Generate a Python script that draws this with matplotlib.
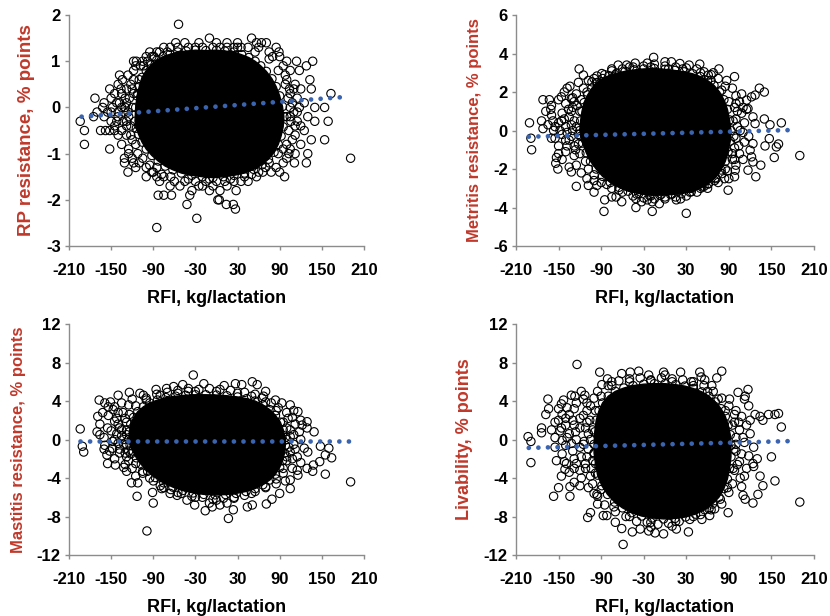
import matplotlib
matplotlib.use("Agg")
from matplotlib import pyplot as plt

plt.rcParams['font.family'] = ['Liberation Sans', 'DejaVu Sans']
plt.rcParams['axes.unicode_minus'] = False

LABEL_RED = "#C0392B"
TREND_BLUE = "#3A64B0"
AXIS_GREY = "#8C8C8C"

x_ticks = [-210, -150, -90, -30, 30, 90, 150, 210]
x_label = "RFI, kg/lactation"

# ---- RP resistance ----
rp_yticks = [-3, -2, -1, 0, 1, 2]
rp_core = [
    (-116, -0.3), (-115, 0.0), (-113, 0.25), (-110, 0.45), (-106, 0.65), (-100, 0.8), (-93, 0.92),
    (-85, 1.02), (-76, 1.1), (-66, 1.15), (-55, 1.2), (-43, 1.22), (-30, 1.24), (-15, 1.23), (0, 1.24),
    (12, 1.22), (25, 1.2), (36, 1.14), (46, 1.08), (55, 1.0), (63, 0.9), (71, 0.78), (79, 0.62),
    (85, 0.45), (90, 0.25), (94, 0.02), (96, -0.2), (95, -0.42), (92, -0.62), (88, -0.8), (82, -0.97),
    (74, -1.12), (65, -1.24), (53, -1.34), (40, -1.42), (25, -1.47), (10, -1.5), (-5, -1.52),
    (-20, -1.5), (-35, -1.47), (-50, -1.42), (-62, -1.35), (-73, -1.27), (-83, -1.16), (-92, -1.04),
    (-100, -0.9), (-106, -0.75), (-111, -0.58), (-114, -0.45),
]
rp_points = [
    (-54, 1.8), (-10, 1.5), (50, 1.5), (-58, 1.4), (-45, 1.4), (-25, 1.4), (0, 1.4), (15, 1.4), (30, 1.4),
    (57, 1.4), (64, 1.4), (71, 1.4), (-66, 1.3), (-55, 1.3), (-40, 1.3), (-30, 1.3), (-20, 1.3), (-5, 1.3),
    (5, 1.3), (15, 1.3), (25, 1.3), (35, 1.3), (45, 1.3), (60, 1.3), (-81, 1.2), (-70, 1.2), (75, 1.2),
    (89, 1.2), (-89, 1.1), (-92, 1.1), (80, 1.1), (90, 1.1), (-118, 1.0), (-114, 1.0), (-105, 1.0),
    (-98, 1.0), (100, 1.0), (114, 1.0), (137, 1.0), (-104, 0.9), (95, 0.9), (128, 0.9), (-126, 0.7),
    (-138, 0.7), (-118, 0.8), (105, 0.8), (118, 0.8), (-134, 0.6), (100, 0.6), (133, 0.6), (-140, 0.5),
    (-122, 0.5), (-152, 0.4), (110, 0.4), (120, 0.4), (135, 0.4), (-135, 0.3), (105, 0.3), (163, 0.3),
    (-173, 0.2), (-150, 0.2), (-130, 0.2), (115, 0.2), (-142, 0.1), (-160, 0.1), (125, 0.1), (-162, 0.0),
    (-148, 0.0), (-130, 0.0), (105, 0.0), (118, 0.0), (140, 0.0), (154, 0.0), (-170, -0.1), (-155, -0.1),
    (110, -0.1), (-175, -0.2), (-160, -0.2), (-140, -0.2), (130, -0.2), (-194, -0.3), (-150, -0.3),
    (-128, -0.3), (115, -0.3), (140, -0.3), (159, -0.3), (-145, -0.4), (120, -0.4), (-188, -0.5),
    (-165, -0.5), (-158, -0.5), (-152, -0.5), (-145, -0.5), (-135, -0.5), (125, -0.5), (-140, -0.6),
    (-128, -0.6), (112, -0.6), (-120, -0.7), (135, -0.7), (154, -0.7), (-188, -0.8), (-135, -0.8),
    (120, -0.8), (-152, -0.9), (-125, -0.9), (105, -0.9), (-125, -1.0), (-112, -1.0), (112, -1.0),
    (130, -1.0), (-131, -1.1), (-120, -1.1), (100, -1.1), (191, -1.1), (-131, -1.2), (-118, -1.2),
    (-110, -1.2), (95, -1.2), (111, -1.2), (128, -1.2), (-85, -1.3), (-100, -1.3), (85, -1.3), (70, -1.3),
    (-126, -1.4), (-90, -1.4), (60, -1.4), (66, -1.4), (78, -1.4), (90, -1.4), (-100, -1.5), (-85, -1.5),
    (-75, -1.5), (40, -1.5), (57, -1.5), (97, -1.5), (-81, -1.6), (-60, -1.6), (-45, -1.6), (-30, -1.6),
    (-15, -1.6), (0, -1.6), (12, -1.6), (25, -1.6), (35, -1.6), (45, -1.6), (-66, -1.7), (-52, -1.7),
    (-25, -1.7), (-20, -1.7), (-5, -1.7), (15, -1.7), (-35, -1.8), (-10, -1.8), (5, -1.8), (28, -1.8),
    (-83, -1.9), (-75, -1.9), (-64, -1.9), (-38, -1.9), (2, -2.0), (4, -2.0), (-42, -2.1), (14, -2.1),
    (24, -2.1), (27, -2.2), (-28, -2.4), (-85, -2.6),
    (-115, 0.9), (-110, 0.6), (-118, 0.3), (-120, 0.0), (-122, -0.4), (-115, -0.8), (-105, -1.1),
    (-95, -1.25), (-78, -1.45), (-65, -1.5), (-40, -1.55), (-10, -1.55), (20, -1.55), (50, -1.45),
    (75, -1.2), (88, -1.0), (100, -0.8), (103, -0.5), (105, -0.2), (102, 0.2), (98, 0.5), (88, 0.8),
    (75, 1.05), (55, 1.2), (30, 1.3), (-75, 1.3), (-85, 1.2), (-100, 1.1), (-108, 0.9), (-128, 0.1),
    (-125, -0.2), (-135, 0.0), (-140, -0.1), (112, 0.5), (108, -0.7), (-95, 1.2), (85, 1.3),
    (-110, -0.4), (-115, -1.3), (-92, -1.4),
    (-145, 0.3), (-138, 0.1), (-132, -0.1), (-128, -0.4), (-122, -0.6), (-118, 0.6), (-124, 0.2),
    (-136, 0.4), (-142, -0.3), (-133, -0.3), (-126, -0.1), (-120, 0.4), (-128, 0.4), (-112, 0.3),
    (-150, -0.1), (100, -0.2), (108, 0.1), (112, -0.4), (104, 0.4), (115, -0.1), (106, -0.3), (98, 0.7),
    (95, -0.9), (103, -1.0),
]
rp_trend_x = [-192, 186]
rp_trend_y = [-0.2, 0.23]

# ---- Metritis resistance ----
met_yticks = [-6, -4, -2, 0, 2, 4, 6]
met_core = [
    (-120, 0.0), (-119, 0.5), (-117, 1.0), (-114, 1.45), (-109, 1.85), (-103, 2.2), (-96, 2.48),
    (-88, 2.7), (-79, 2.85), (-68, 2.98), (-56, 3.08), (-43, 3.15), (-30, 3.2), (-15, 3.22), (0, 3.18),
    (14, 3.12), (27, 3.05), (39, 2.95), (50, 2.8), (60, 2.6), (69, 2.35), (77, 2.0), (83, 1.6), (88, 1.1),
    (91, 0.55), (93, 0.0), (92, -0.55), (89, -1.1), (85, -1.6), (79, -2.05), (71, -2.45), (61, -2.78),
    (50, -3.0), (37, -3.18), (23, -3.28), (8, -3.33), (-7, -3.36), (-22, -3.36), (-37, -3.27),
    (-52, -3.15), (-65, -2.95), (-77, -2.7), (-88, -2.38), (-97, -2.0), (-105, -1.6), (-111, -1.15),
    (-116, -0.65), (-119, -0.3),
]
met_points = [
    (-191, 0.4), (-189, -0.4), (-188, -1.0), (-172, 1.6), (-163, 1.6), (-174, 0.5), (-172, 0.1),
    (-168, 1.0), (-161, 1.1), (-158, 0.5), (-157, 0.0), (-155, -0.4), (-154, -1.7), (-151, -2.0),
    (-153, -1.4), (-121, 3.2), (-122, 2.5), (-134, 2.3), (-138, 2.2), (-146, 1.75), (-132, 1.66),
    (-125, -2.9), (-132, -2.15), (-108, -2.85), (-100, -3.2), (-96, -2.85), (-85, -3.6), (-86, -4.2),
    (-75, -3.45), (-61, -3.7), (-69, -3.45), (-41, -4.0), (-41, -3.54), (-33, -3.7), (-18, -4.2),
    (-18, -3.7), (-25, -3.6), (0, -3.45), (-5, -3.3), (16, -3.6), (22, -3.55), (30, -4.3), (37, -3.0),
    (52, -2.93), (61, -2.75), (70, -2.6), (84, -2.5), (89, -3.1), (80, -2.24), (98, -2.4), (99, -2.06),
    (117, -2.06), (128, -2.4), (135, -1.8), (124, -1.63), (141, -0.8), (154, -1.4), (157, -0.85),
    (160, -0.7), (147, -0.42), (148, 0.3), (140, 0.6), (164, 0.4), (190, -1.3), (133, 2.2), (140, 2.0),
    (122, 1.75), (127, 1.84), (115, 1.58), (110, 1.2), (117, 1.14), (124, 0.71), (127, 0.36),
    (124, -0.68), (120, -1.02), (122, -1.37), (98, 2.8), (87, 2.6), (76, 3.2), (68, 3.0), (61, 2.88),
    (49, 3.45), (34, 3.4), (21, 3.48), (9, 3.57), (0, 3.57), (-16, 3.8), (-25, 3.5), (-42, 3.5),
    (-54, 3.4), (-66, 3.4), (-75, 3.2), (-89, 2.96), (-96, 2.83), (-103, 2.53), (-108, 2.6), (-115, 2.88),
    (-150, 1.6), (-140, 1.4), (-130, 1.2), (-145, 0.9), (-135, 0.7), (-150, 0.4), (-140, 0.2), (-130, 0.0),
    (-145, -0.2), (-135, -0.5), (-150, -0.8), (-140, -1.1), (-128, -1.3), (-145, -1.5), (-125, -1.8),
    (-135, -1.9), (-118, -2.2), (-110, -2.5), (-125, 1.9), (-115, 2.2), (-130, 1.7), (-160, 1.3),
    (-160, 0.8), (-128, 0.5), (-122, -0.7), (-120, 1.0), (-112, -1.6), (-100, 2.7), (-85, 2.9),
    (-75, 3.1), (-60, 3.2), (-45, 3.3), (-30, 3.35), (-15, 3.45), (0, 3.35), (15, 3.3), (30, 3.25),
    (45, 3.2), (55, 3.05), (65, 2.9), (75, 2.7), (85, 2.3), (95, 2.2), (100, 1.8), (105, 1.5), (98, 1.2),
    (108, 0.9), (100, 0.6), (112, 0.4), (102, 0.2), (110, -0.1), (100, -0.4), (112, -0.6), (98, -0.9),
    (105, -1.2), (95, -1.5), (100, -1.8), (88, -2.1), (115, 1.1), (118, -0.3), (90, -2.5), (75, -2.7),
    (60, -3.0), (45, -3.2), (30, -3.4), (15, -3.45), (0, -3.55), (-15, -3.55), (-30, -3.5), (-45, -3.4),
    (-60, -3.2), (-75, -3.0), (-90, -2.7), (-100, -2.3), (-8, -3.8),
    (-125, 0.2), (-120, -1.2), (-118, 1.6), (-110, 2.0), (-108, -2.0), (-100, -2.6), (-95, 2.5),
    (-82, -2.8), (-70, 2.9), (-65, -3.1), (-50, 3.3), (-40, -3.3), (-20, 3.3), (-20, -3.4), (5, 3.2),
    (10, -3.3), (25, 3.2), (35, -3.2), (50, 3.0), (55, -2.9), (65, 2.6), (72, -2.5), (80, 2.1),
    (85, -2.0), (90, 1.5), (95, -1.2), (96, 0.5), (97, -0.3), (-128, -0.8), (-132, 1.0), (-138, -0.1),
    (-155, 0.2), (-150, -1.2), (-142, 2.0), (108, 1.9), (110, -1.5), (-165, 0.3), (-160, -0.4),
    (-148, 0.0), (-142, 0.6), (-136, 1.1), (-132, -0.3), (-126, -1.0), (-138, -0.8), (-124, 1.3),
    (-128, 1.5), (-140, -0.5), (-146, 0.5), (-132, 0.3), (-122, -0.2), (102, 1.0), (104, -0.8),
    (98, -1.5), (106, 0.0), (100, 1.4),
]
met_trend_x = [-192, 184]
met_trend_y = [-0.32, 0.03]

# ---- Mastitis resistance ----
mas_yticks = [-12, -8, -4, 0, 4, 8, 12]
mas_core = [
    (-125, 0.0), (-124, 0.8), (-122, 1.6), (-118, 2.3), (-112, 2.9), (-104, 3.4), (-95, 3.8), (-84, 4.1),
    (-72, 4.35), (-58, 4.5), (-44, 4.6), (-30, 4.65), (-15, 4.65), (0, 4.62), (15, 4.55), (30, 4.42),
    (43, 4.25), (55, 4.0), (66, 3.6), (76, 3.1), (84, 2.5), (91, 1.8), (95, 1.0), (98, 0.2), (98, -0.6),
    (97, -1.4), (94, -2.2), (90, -2.9), (84, -3.6), (76, -4.2), (66, -4.7), (55, -5.1), (42, -5.4),
    (28, -5.6), (13, -5.72), (-2, -5.75), (-18, -5.7), (-33, -5.55), (-48, -5.3), (-62, -4.95),
    (-75, -4.5), (-87, -3.95), (-98, -3.3), (-107, -2.6), (-114, -1.9), (-119, -1.2), (-123, -0.6),
]
mas_points = [
    (-194, 1.1), (-191, -0.7), (-189, -1.3), (-167, 4.1), (-169, 2.4), (-166, 1.6), (-170, 0.8),
    (-166, 0.5), (-159, 3.8), (-154, 3.4), (-154, 2.5), (-159, -0.6), (-156, -1.6), (-155, -2.5),
    (-140, 4.6), (-151, 3.9), (-147, 3.1), (-124, 4.9), (-144, -2.65), (-132, -2.9), (-128, -3.3),
    (-121, -4.5), (-113, -5.9), (-90, -6.6), (-91, -5.5), (-99, -9.5), (-86, 5.2), (-104, 4.6),
    (-109, 4.8), (-71, 5.3), (-61, 5.5), (-48, 5.7), (-40, 5.3), (-33, 6.7), (-18, 5.8), (11, 5.6),
    (27, 5.8), (36, 5.7), (51, 6.0), (58, 5.7), (70, 5.0), (67, 4.5), (84, 4.1), (93, 3.8), (105, 3.6),
    (116, 2.9), (129, 1.2), (139, 0.8), (120, 2.0), (129, 1.85), (148, -0.7), (160, -0.9), (164, -1.9),
    (155, -1.6), (138, -2.65), (147, -2.3), (137, -3.3), (129, -3.0), (155, -3.6), (191, -4.4),
    (116, -3.7), (105, -4.2), (105, -5.1), (90, -5.6), (79, -6.2), (71, -6.7), (51, -6.8), (44, -7.0),
    (24, -7.3), (17, -8.2), (5, -6.8), (-16, -7.4), (-6, -7.0), (-31, -6.8), (-42, -6.3), (-56, -5.8),
    (-66, -5.6), (-78, -5.1), (-145, 3.4), (-140, 2.8), (-135, 3.8), (-130, 2.2), (-145, 1.9),
    (-138, 1.2), (-150, 0.9), (-135, 0.4), (-145, 0.0), (-132, -0.5), (-148, -0.9), (-138, -1.4),
    (-128, -1.8), (-145, -2.0), (-130, -2.6), (-120, -3.0), (-115, -3.8), (-125, 3.6), (-120, 4.2),
    (-128, 1.0), (-125, -1.2), (-160, 0.2), (-155, 1.2), (-152, -1.2), (-100, 4.3), (-85, 4.7),
    (-70, 4.9), (-55, 5.1), (-40, 5.0), (-25, 5.2), (-10, 5.3), (5, 5.2), (20, 5.1), (40, 4.9), (55, 4.7),
    (65, 4.3), (78, 3.8), (88, 3.3), (100, 2.8), (108, 2.3), (112, 1.6), (100, 1.2), (118, 0.8), (105, 0.3),
    (120, 0.0), (110, -0.5), (125, -0.9), (105, -1.3), (115, -1.8), (100, -2.2), (120, -2.4), (108, -3.0),
    (95, -3.5), (98, -4.3), (85, -4.6), (130, -1.3), (122, 1.5), (70, -5.0), (55, -5.4), (40, -5.8),
    (25, -6.0), (10, -6.1), (-5, -6.2), (-20, -6.0), (-35, -5.9), (-50, -5.6), (-65, -5.2), (-80, -4.8),
    (-95, -4.0), (-105, -3.3), (15, -6.6), (-10, -6.6),
    (-128, 0.5), (-128, -0.5), (-124, 2.6), (-115, 3.5), (-100, 4.1), (-80, 4.6), (-55, 4.8), (-30, 5.0),
    (0, 5.0), (30, 4.8), (50, 4.5), (70, 3.9), (85, 3.0), (95, 1.8), (100, 0.0), (100, -1.8), (95, -3.0),
    (85, -4.1), (70, -4.9), (50, -5.6), (25, -6.1), (0, -6.3), (-30, -6.0), (-55, -5.5), (-75, -5.0),
    (-90, -4.3), (-105, -3.5), (-115, -2.5), (-122, -1.5), (-140, -0.4), (-142, 2.2), (-112, -4.5),
    (110, 3.0), (115, -3.2), (-160, -1.0), (-162, 2.8),
    (-140, 1.6), (-135, 1.0), (-132, 0.0), (-138, -1.0), (-142, 0.6), (-130, -1.4), (-128, 1.8),
    (-133, 2.8), (-125, -2.2), (-148, -0.2), (105, 1.0), (103, -0.8), (110, 0.5), (108, -2.0),
    (102, 2.2), (112, -1.0),
]
mas_trend_x = [-194, 188]
mas_trend_y = [-0.15, -0.15]

# ---- Livability ----
liv_yticks = [-12, -8, -4, 0, 4, 8, 12]
liv_core = [
    (-100, -0.5), (-99, 0.8), (-97, 2.0), (-93, 3.0), (-88, 3.8), (-80, 4.5), (-70, 5.0), (-58, 5.35),
    (-45, 5.6), (-30, 5.75), (-15, 5.8), (0, 5.8), (15, 5.7), (28, 5.55), (40, 5.3), (52, 4.95), (62, 4.5),
    (71, 3.9), (79, 3.2), (85, 2.4), (89, 1.5), (92, 0.5), (93, -0.6), (93, -1.8), (91, -3.0), (88, -4.1),
    (83, -5.1), (76, -6.0), (67, -6.7), (56, -7.3), (43, -7.75), (29, -8.05), (14, -8.2), (-2, -8.25),
    (-18, -8.15), (-33, -7.95), (-47, -7.6), (-60, -7.1), (-71, -6.5), (-81, -5.7), (-89, -4.8),
    (-95, -3.7), (-98, -2.5), (-100, -1.4),
]
liv_points = [
    (-193, 0.3), (-189, -0.2), (-189, -2.4), (-165, 4.2), (-164, 3.2), (-168, 2.6), (-174, 1.2),
    (-174, 0.7), (-155, 0.2), (-153, -2.2), (-150, -5.0), (-157, -5.9), (-150, 3.2), (-146, 3.7),
    (-143, 4.1), (-134, -5.9), (-134, -4.9), (-146, -3.8), (-141, -3.1), (-139, -2.5), (-124, 7.8),
    (-127, 4.5), (-113, 4.6), (-128, -4.45), (-120, -4.8), (-109, -8.1), (-105, -7.6), (-96, -5.7),
    (-95, -6.7), (-92, 7.0), (-81, 6.3), (-89, 5.7), (-87, -7.9), (-82, -7.9), (-70, -8.6), (-61, -9.25),
    (-46, -9.6), (-59, -10.9), (-61, 6.85), (-49, 7.0), (-37, 7.1), (-23, 6.7), (-2, 7.0), (0, 6.7),
    (22, 7.0), (37, 6.0), (49, 7.0), (51, 6.5), (56, 6.2), (80, 7.1), (73, 6.4), (66, 5.6), (91, 4.2),
    (103, 4.9), (117, 5.2), (113, 4.5), (127, 2.6), (134, 2.4), (146, 2.6), (155, 2.6), (160, 2.7),
    (164, 1.3), (138, 2.0), (150, -1.8), (138, -4.8), (155, -4.3), (134, -3.8), (124, -2.5), (124, -6.6),
    (113, -6.2), (131, -5.7), (190, -6.5), (89, -7.6), (70, -7.2), (63, -7.9), (52, -8.3), (33, -9.6),
    (16, -9.3), (-2, -9.8), (-14, -9.7), (-23, -9.5), (-35, -9.3), (-145, 2.6), (-138, 3.3),
    (-130, 2.0), (-140, 1.5), (-125, 3.8), (-115, 4.2), (-110, 3.0), (-120, 1.2), (-135, 0.6),
    (-148, 0.9), (-125, 0.0), (-140, -0.6), (-115, -0.5), (-130, -1.2), (-118, -1.8), (-145, -1.5),
    (-108, -1.0), (-125, -2.5), (-112, -3.0), (-135, -3.4), (-105, -3.8), (-118, -4.0), (-108, -5.0),
    (-100, -5.6), (-110, 1.8), (-105, 3.5), (-102, -2.2), (-155, 1.8), (-155, -0.8), (-108, 0.6),
    (-95, 5.0), (-80, 5.6), (-65, 6.1), (-50, 6.3), (-35, 6.4), (-20, 6.2), (-5, 6.4), (10, 6.3),
    (25, 6.2), (40, 6.0), (55, 5.6), (68, 5.0), (80, 4.3), (90, 3.5), (-75, 6.0), (100, 3.0), (108, 2.4),
    (98, 1.8), (115, 1.5), (105, 1.0), (120, 0.6), (100, 0.2), (112, -0.3), (125, -0.8), (100, -1.2),
    (118, -1.7), (105, -2.3), (125, -2.8), (98, -3.2), (112, -3.8), (95, -4.6), (108, -4.9), (90, -5.5),
    (130, -2.0), (118, 3.5), (80, -6.7), (65, -7.3), (50, -7.8), (35, -8.3), (20, -8.5), (5, -8.7),
    (-10, -8.8), (-25, -8.6), (-40, -8.5), (-55, -8.0), (-70, -7.5), (-85, -6.8), (-95, -5.9),
    (-20, -9.1), (10, -9.0),
    (-102, 1.0), (-100, -1.5), (-98, 3.0), (-98, -3.5), (-90, 4.5), (-90, -5.2), (-75, 5.6), (-72, -7.0),
    (-50, 6.0), (-50, -8.0), (-20, 6.1), (-20, -8.6), (10, 6.0), (15, -8.5), (40, 5.6), (40, -8.0),
    (60, 5.0), (62, -7.2), (75, 4.2), (78, -6.2), (85, 3.0), (88, -5.0), (95, 1.5), (97, -1.0), (96, -3.0),
    (-115, 2.5), (-120, -0.8), (-128, 1.5), (-128, -3.0), (-140, 2.2), (-112, -2.5), (-145, -0.1),
    (-118, 5.0), (110, -5.8), (112, 4.2), (-132, 4.6), (-160, 1.0),
    (-135, 2.6), (-128, 3.2), (-120, 2.2), (-112, 1.2), (-105, 0.0), (-110, -1.8), (-120, -3.2),
    (-128, -2.0), (-132, -0.4), (-138, 0.2), (-126, 0.8), (-114, -0.2), (-106, 2.0), (-104, -3.0),
    (-102, -4.6), (-110, 3.8), (-100, 4.3), (-142, -2.3), (-146, 1.2), (-150, 2.0), (100, -0.5),
    (104, 1.8), (108, -1.5), (102, -2.6), (110, 0.2), (98, 2.6), (106, -4.0), (115, -3.0), (120, 2.0),
]
liv_trend_x = [-192, 184]
liv_trend_y = [-0.87, -0.15]


def draw_panel(ax, core, points, trend_x, trend_y, yticks, ylabel, ylabel_size):
    # dense centre of the cloud, where the circles run together
    cx = [p[0] for p in core]
    cy = [p[1] for p in core]
    ax.fill(cx, cy, color="black", lw=1, zorder=2)
    ax.scatter(cx, cy, s=36, facecolors="none", edgecolors="black", linewidths=0.8, zorder=3)
    px = [p[0] for p in points]
    py = [p[1] for p in points]
    ax.scatter(px, py, s=36, facecolors="none", edgecolors="black", linewidths=0.8, zorder=3)
    ax.plot(trend_x, trend_y, color=TREND_BLUE, lw=3.4, linestyle=(0, (0.01, 2.02)),
            dash_capstyle="round", zorder=4)

    ax.set_xlim(-210, 210)
    ax.set_ylim(yticks[0], yticks[-1])
    ax.set_xticks(x_ticks)
    ax.set_yticks(yticks)
    for s in ["top", "right"]:
        ax.spines[s].set_visible(False)
    for s in ["left", "bottom"]:
        ax.spines[s].set_color(AXIS_GREY)
        ax.spines[s].set_linewidth(1)
    ax.tick_params(axis="both", direction="out", length=3, width=1, color=AXIS_GREY, labelsize=12)
    ax.tick_params(axis="x", pad=9)
    ax.tick_params(axis="y", pad=3)
    for lab in ax.get_xticklabels() + ax.get_yticklabels():
        lab.set_fontweight("bold")
    ax.set_xlabel(x_label, fontsize=13, fontweight="bold", labelpad=9)
    ax.set_ylabel(ylabel, fontsize=ylabel_size, fontweight="bold", color=LABEL_RED, labelpad=8)


fig = plt.figure(figsize=(8.3, 6.16), dpi=100)
ax1 = fig.add_axes([0.0831, 0.6006, 0.3554, 0.375])
ax2 = fig.add_axes([0.6217, 0.6006, 0.3590, 0.375])
ax3 = fig.add_axes([0.0831, 0.0990, 0.3554, 0.375])
ax4 = fig.add_axes([0.6217, 0.0990, 0.3590, 0.375])

draw_panel(ax1, rp_core, rp_points, rp_trend_x, rp_trend_y, rp_yticks, "RP resistance, % points", 13.5)
draw_panel(ax2, met_core, met_points, met_trend_x, met_trend_y, met_yticks, "Metritis resistance, % points", 12)
draw_panel(ax3, mas_core, mas_points, mas_trend_x, mas_trend_y, mas_yticks, "Mastitis resistance, % points", 12)
draw_panel(ax4, liv_core, liv_points, liv_trend_x, liv_trend_y, liv_yticks, "Livability, % points", 13)

fig.savefig("out.png", dpi=100)
